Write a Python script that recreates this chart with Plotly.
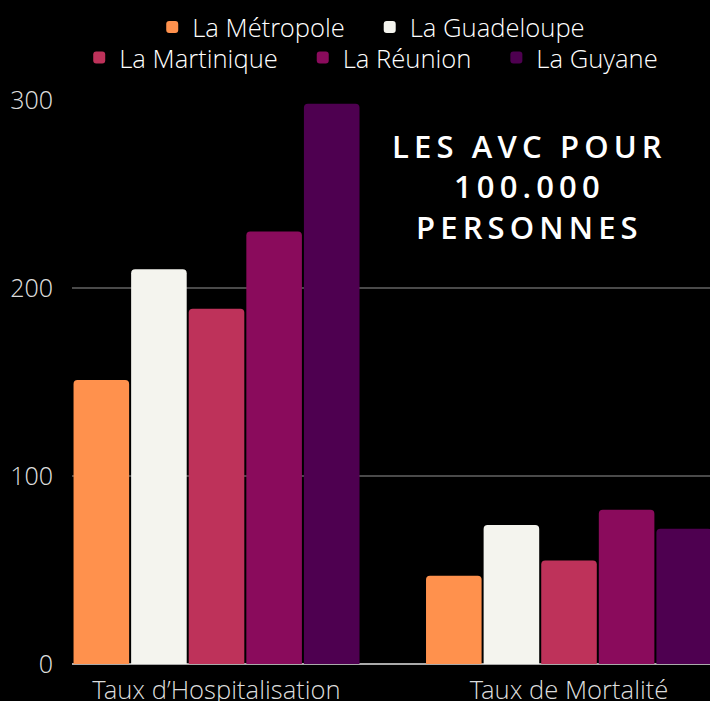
import plotly.graph_objects as go

categories = ["Taux d\u2019Hospitalisation", "Taux de Mortalit\u00e9"]
series_names = ["La M\u00e9tropole", "La Guadeloupe", "La Martinique", "La R\u00e9union", "La Guyane"]
metropole = [151, 47]
guadeloupe = [210, 74]
martinique = [189, 55]
reunion = [230, 82]
guyane = [298, 72]
series_values = [metropole, guadeloupe, martinique, reunion, guyane]
colors = ["#FF914D", "#F4F4EE", "#BE325A", "#8A0B5C", "#4E0050"]
legend_ids = ["legend", "legend", "legend2", "legend2", "legend2"]
row_last = [False, True, False, False, True]
y_ticks = [0, 100, 200, 300]

FONT = "Open Sans Light, Open Sans"
TFONT = "Open Sans"
PAD = "\u00a0\u00a0\u00a0"

def spaced(s, sep="\u2009"):
    return sep.join(list(s))

fig = go.Figure()
for name, vals, col, lg, last in zip(series_names, series_values, colors, legend_ids, row_last):
    fig.add_trace(go.Bar(x=categories, y=vals, name=name if last else name + PAD,
                         marker_color=col, marker_line_width=0, legend=lg))

legend_common = dict(orientation="h", xanchor="center", yanchor="middle",
                     bgcolor="rgba(0,0,0,0)",
                     font=dict(family=FONT, size=25.6, color="#ffffff", weight=300))

title_text = "<br>".join([spaced("LES AVC POUR"), spaced("100.000"), spaced("PERSONNES")])

fig.update_layout(
    width=710, height=701,
    margin=dict(l=72, r=0, t=100, b=37, autoexpand=False),
    paper_bgcolor="#000000", plot_bgcolor="#000000",
    barmode="group", bargap=0.183, bargroupgap=0.035, barcornerradius=4,
    font=dict(family=FONT, color="#dddddd"),
    legend=dict(x=0.469, y=1.129, **legend_common),
    legend2=dict(x=0.469, y=1.0745, **legend_common),
    xaxis=dict(range=[-0.41, 1.40], showgrid=False, showline=False, zeroline=False,
               ticks="", ticklabelstandoff=8, automargin=False,
               tickfont=dict(family=FONT, size=25.6, color="#dddddd", weight=300)),
    yaxis=dict(range=[0, 300], tickvals=y_ticks, showgrid=True, gridcolor="#4a4a4a",
               gridwidth=1.5, zeroline=True, zerolinecolor="#aaaaaa", zerolinewidth=2,
               showline=False, ticks="", ticklabelstandoff=18, automargin=False,
               tickfont=dict(family=FONT, size=25, color="#dddddd", weight=300)),
    annotations=[dict(x=0.713, y=0.846, xref="paper", yref="paper",
                      xanchor="center", yanchor="middle", showarrow=False,
                      text=title_text, align="center",
                      font=dict(family=TFONT, size=31, color="#ffffff", weight=600))],
)

fig.write_html("out.html", config={"displayModeBar": False},
               post_script="document.body.style.margin='0';document.body.style.background='#000';")
